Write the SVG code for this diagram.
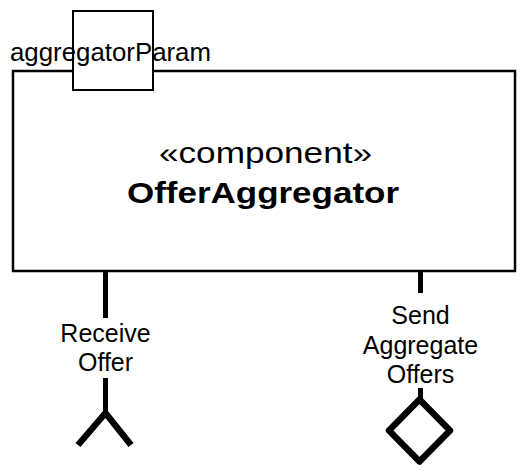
<svg xmlns="http://www.w3.org/2000/svg" width="526" height="476" viewBox="0 0 526 476">
<style>
text{font-family:"Liberation Sans",Arial,Helvetica,sans-serif;fill:#000}
.lbl{font-size:25px}
.big{font-size:30px}
.bold{font-weight:bold}
.box{fill:#fff;stroke:#000}
.conn{stroke:#000;stroke-width:5;fill:none}
.sym{stroke:#000;fill:none;stroke-width:6.5}
</style>
<rect width="526" height="476" fill="#fff"/>
<g id="component-OfferAggregator">
<rect class="box" x="13" y="71" width="502" height="200" stroke-width="2.5"/>
<text class="big" x="265.5" y="163" text-anchor="middle" textLength="213" lengthAdjust="spacingAndGlyphs">«component»</text>
<text class="big bold" x="263" y="203" text-anchor="middle" textLength="272" lengthAdjust="spacingAndGlyphs">OfferAggregator</text>
</g>
<g id="port-aggregatorParam">
<rect class="box" x="73" y="11" width="80" height="79" stroke-width="2"/>
<text class="lbl" x="10" y="61" textLength="201" lengthAdjust="spacingAndGlyphs">aggregatorParam</text>
</g>
<g id="connectors">
<line class="conn" x1="105.5" y1="271" x2="105.5" y2="318"/>
<line class="conn" x1="105.5" y1="378" x2="105.5" y2="411"/>
<line class="conn" x1="420.5" y1="271" x2="420.5" y2="293"/>
<line class="conn" x1="420.5" y1="388" x2="420.5" y2="400"/>
</g>
<g id="interface-ReceiveOffer">
<text class="lbl" x="105.5" y="342" text-anchor="middle">Receive</text>
<text class="lbl" x="105.5" y="371" text-anchor="middle">Offer</text>
<polyline class="sym" points="78,445 105.5,413 131,445"/>
</g>
<g id="interface-SendAggregateOffers">
<text class="lbl" x="420.5" y="324" text-anchor="middle">Send</text>
<text class="lbl" x="420.5" y="353.5" text-anchor="middle">Aggregate</text>
<text class="lbl" x="420.5" y="383" text-anchor="middle">Offers</text>
<polygon class="sym" stroke-width="7" stroke-linejoin="round" points="419.5,399.5 450,430.5 419.5,461.5 389,430.5"/>
</g>
</svg>
